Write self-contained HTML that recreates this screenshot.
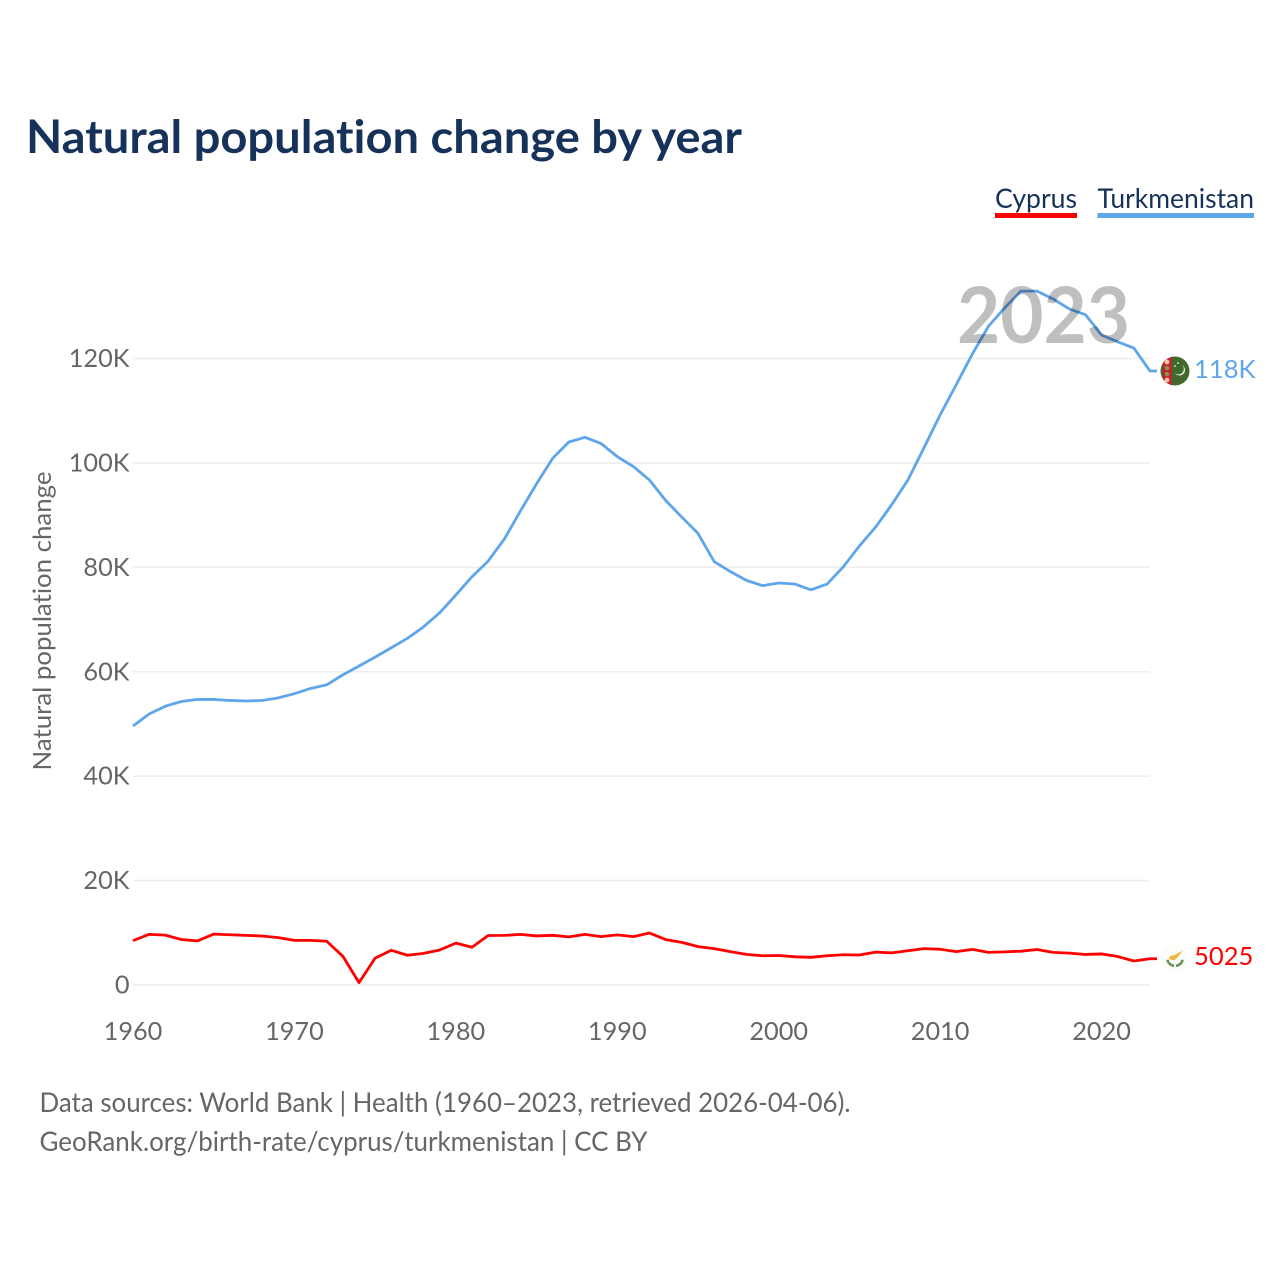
<!DOCTYPE html>
<html lang="en">
<head>
<meta charset="utf-8">
<title>Natural population change by year</title>
<style>
html,body{margin:0;padding:0;background:#fff;}
svg{display:block;}
text{font-family:"Lato","Carlito","Liberation Sans",sans-serif;font-variant-ligatures:none;}
</style>
</head>
<body>
<svg id="chart" xmlns="http://www.w3.org/2000/svg" width="1280" height="1280" viewBox="0 0 1280 1280">
  <rect width="1280" height="1280" fill="#fff"/>
  <text x="26" y="153" font-size="46" font-weight="700" fill="#17325a" textLength="716" lengthAdjust="spacingAndGlyphs">Natural population change by year</text>

  <g>
    <g>
      <text x="995" y="208" font-size="27" fill="#17325a" textLength="82" lengthAdjust="spacingAndGlyphs">Cyprus</text>
      <rect x="995" y="213" width="82" height="5" fill="#ff0000"/>
    </g>
    <g>
      <text x="1097.5" y="208" font-size="27" fill="#17325a" textLength="156.5" lengthAdjust="spacingAndGlyphs">Turkmenistan</text>
      <rect x="1097.5" y="213" width="156.5" height="5" fill="#5fa5ec"/>
    </g>
  </g>

  <g id="grid"></g>
  <g id="yticks"></g>
  <g id="xticks"></g>
  <text transform="translate(51,770.5) rotate(-90)" font-size="25" fill="#666" textLength="299" lengthAdjust="spacingAndGlyphs">Natural population change</text>

  <g id="series"></g>

  <text x="957" y="343" font-size="78" font-weight="700" fill="#000" fill-opacity="0.25" textLength="173" lengthAdjust="spacingAndGlyphs">2023</text>

  <g id="flag-tm">
    <clipPath id="tm-clip"><circle r="14.5"/></clipPath>
    <g clip-path="url(#tm-clip)">
      <rect x="-15" y="-15" width="30" height="30" fill="#41692b"/>
      <rect x="-12" y="-15" width="8.5" height="30" fill="#d01c2c"/>
      <circle cx="-8" cy="-9" r="2.4" fill="#f2c9a0"/>
      <circle cx="-8" cy="-3" r="2.2" fill="#7f9a5a"/>
      <circle cx="-8" cy="3" r="2.2" fill="#7f9a5a"/>
      <circle cx="-8" cy="9" r="2.4" fill="#f2c9a0"/>
      <path d="M7 -6 A5.5 5.5 0 1 1 0 2 A4.5 4.5 0 1 0 7 -6 Z" fill="#e8eee0"/>
      <circle cx="0" cy="-5" r="0.9" fill="#e8eee0"/>
      <circle cx="3" cy="-8" r="0.9" fill="#e8eee0"/>
    </g>
  </g>
  <g id="flag-cy">
    <circle r="14.5" fill="#fbfdfb"/>
    <path d="M-6 -1 C-4 -4 -2 -3 0 -4 C2 -5 5 -7 8 -8 C5 -5 3 -1 0 1 C-3 2 -6 1 -6 -1 Z" fill="#eeb93f"/>
    <path d="M-7.5 1 C-7 5 -3 7 -1 7" fill="none" stroke="#6f8f4e" stroke-width="2.6"/>
    <path d="M7.5 1 C7 5 3 7 1 7" fill="none" stroke="#6f8f4e" stroke-width="2.6"/>
  </g>
  <g id="endlabels"></g>

  <text x="39.5" y="1112" font-size="27" fill="#666" textLength="811" lengthAdjust="spacingAndGlyphs">Data sources: World Bank | Health (1960–2023, retrieved 2026-04-06).</text>
  <text x="39.5" y="1151" font-size="27" fill="#666" textLength="608" lengthAdjust="spacingAndGlyphs">GeoRank.org/birth-rate/cyprus/turkmenistan | CC BY</text>
</svg>
<script>
const startYear = 1960;
const endYear = 2023;
const yTickValues = [0, 20000, 40000, 60000, 80000, 100000, 120000];
const yTickLabels = ["0", "20K", "40K", "60K", "80K", "100K", "120K"];
const xTickYears = [1960, 1970, 1980, 1990, 2000, 2010, 2020];
const cyprusValues = [8500, 9700, 9560, 8700, 8450, 9750, 9620, 9500, 9380, 9080, 8550, 8550, 8380, 5500, 450, 5150, 6650, 5700, 6050, 6700, 8020, 7230, 9480, 9500, 9700, 9400, 9520, 9220, 9700, 9260, 9600, 9260, 9950, 8700, 8170, 7350, 6960, 6390, 5870, 5600, 5650, 5400, 5300, 5600, 5800, 5750, 6300, 6150, 6570, 6960, 6850, 6400, 6830, 6250, 6350, 6480, 6800, 6250, 6100, 5850, 5950, 5450, 4600, 5025];
const turkmenistanValues = [49600, 51900, 53400, 54300, 54700, 54700, 54500, 54400, 54500, 55000, 55800, 56800, 57500, 59400, 61100, 62800, 64600, 66400, 68600, 71300, 74700, 78200, 81200, 85400, 90800, 96000, 100900, 104000, 104900, 103700, 101200, 99300, 96700, 92800, 89600, 86500, 81100, 79200, 77500, 76500, 77000, 76800, 75700, 76800, 80100, 84100, 87700, 92000, 96700, 102900, 109200, 115000, 120900, 126200, 129700, 132900, 132900, 131400, 129500, 128400, 124500, 123200, 122000, 117600];
const endLabels = ["5025", "118K"];

const SVG_NS = "http://www.w3.org/2000/svg";
function x(year) { return 133 + (year - startYear) * (1150 - 133) / (endYear - startYear); }
function y(value) { return 985 - value * (985 - 358.5) / 120000; }
function make(tag, attrs, parent) {
  const el = document.createElementNS(SVG_NS, tag);
  for (const k in attrs) el.setAttribute(k, attrs[k]);
  parent.appendChild(el);
  return el;
}

const grid = document.getElementById("grid");
const yticks = document.getElementById("yticks");
yTickValues.forEach(function (v, i) {
  const line = make("line", { x1: 133, x2: 1150, y1: y(v), y2: y(v), stroke: "#eeeeee", "stroke-width": 1.6 }, grid);
  
  
  const t = make("text", { x: 129.5, y: y(v) + 8.5, "font-size": 25.3, fill: "#666", "text-anchor": "end" }, yticks);
  
  
  t.textContent = yTickLabels[i];
});

const xticks = document.getElementById("xticks");
xTickYears.forEach(function (yr) {
  const t = make("text", { x: x(yr), y: 1040, "font-size": 25.3, fill: "#666", "text-anchor": "middle" }, xticks);
  
  
  t.textContent = yr;
});

function linePath(values) {
  let d = values.map(function (v, i) {
    return (i ? "L" : "M") + x(startYear + i).toFixed(2) + " " + y(v).toFixed(2);
  }).join(" ");
  d += " L1157 " + y(values[values.length - 1]).toFixed(2);
  return d;
}
const series = document.getElementById("series");
const cyprusLine = make("path", { d: linePath(cyprusValues), fill: "none", stroke: "#ff0000", "stroke-width": 2.8, "stroke-linejoin": "round" }, series);


const turkmenistanLine = make("path", { d: linePath(turkmenistanValues), fill: "none", stroke: "#5fa5ec", "stroke-width": 2.8, "stroke-linejoin": "round" }, series);



const lastCy = y(cyprusValues[cyprusValues.length - 1]);
const lastTm = y(turkmenistanValues[turkmenistanValues.length - 1]);
document.getElementById("flag-tm").setAttribute("transform", "translate(1175," + lastTm + ")");
document.getElementById("flag-cy").setAttribute("transform", "translate(1175," + lastCy + ")");

const endlabels = document.getElementById("endlabels");
const cyLabel = make("text", { x: 1194, y: lastCy + 6, "font-size": 25.6, fill: "#ff0000" }, endlabels);


cyLabel.textContent = endLabels[0];
const tmLabel = make("text", { x: 1194, y: lastTm + 7, "font-size": 25.6, fill: "#5fa5ec" }, endlabels);


tmLabel.textContent = endLabels[1];
</script>
</body>
</html>
